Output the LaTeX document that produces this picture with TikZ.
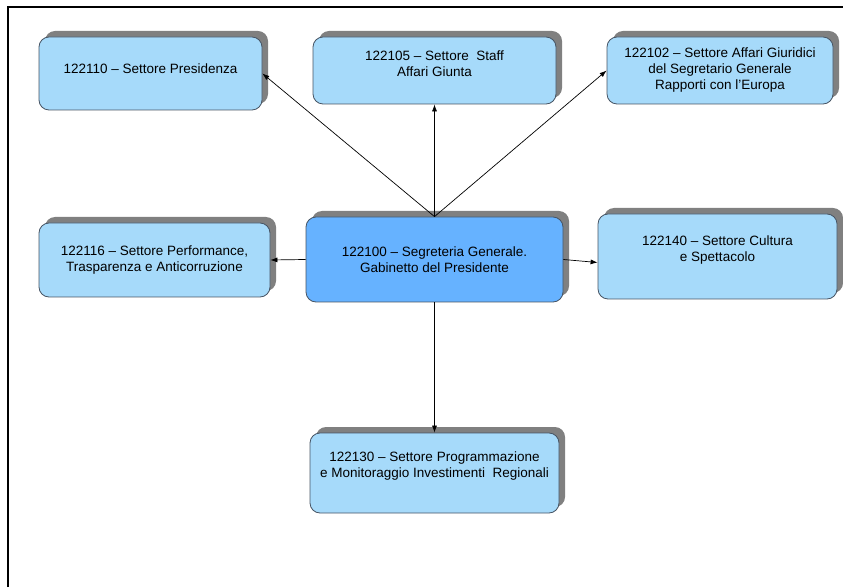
\documentclass[tikz,border=0pt]{standalone}
\usepackage{fontspec}
\setmainfont{Liberation Sans}
\usetikzlibrary{shadows,arrows.meta}
\definecolor{cellblue}{RGB}{166,218,250}
\definecolor{headblue}{RGB}{102,178,255}
\definecolor{cellline}{RGB}{70,84,100}
\definecolor{cellshadow}{RGB}{128,128,128}
\tikzset{
  cell/.style={draw=cellline,line width=.8pt,fill=cellblue,rounded corners=10pt,inner sep=0pt,
    drop shadow={shadow xshift=6pt,shadow yshift=6pt,fill=cellshadow,opacity=1}},
  head/.style={cell,fill=headblue},
  celltext/.style={align=center,font=\fontsize{13.5}{16}\selectfont,inner sep=0pt},
  link/.style={-{Latex[length=7pt,width=5pt]},line width=.7pt}
}
\begin{document}
\begin{tikzpicture}[x=1pt,y=1pt]
\useasboundingbox (0,0) rectangle (843,587);
\draw[line width=2.5pt,line join=miter] (8,0) -- (8,580) -- (843,580);

\node[cell,minimum width=223pt,minimum height=73pt] (pres) at (150.5,513.5) {};
\node[cell,minimum width=243pt,minimum height=67pt] (staff) at (434.5,516.5) {};
\node[cell,minimum width=226pt,minimum height=67pt] (giur) at (720,516.5) {};
\node[head,minimum width=257pt,minimum height=85pt] (seg) at (434.5,327.5) {};
\node[cell,minimum width=231pt,minimum height=74pt] (perf) at (154.5,327) {};
\node[cell,minimum width=239pt,minimum height=85pt] (cult) at (717.5,330.5) {};
\node[cell,minimum width=249pt,minimum height=80pt] (prog) at (434.5,114) {};

\node[celltext] (presT) at ([yshift=4.5pt]pres) {122110 – Settore Presidenza};
\node[celltext] (staffT) at ([yshift=6.5pt]staff) {122105 – Settore\ \ Staff\\Affari Giunta};
\node[celltext] (giurT) at (giur) {122102 – Settore Affari Giuridici\\del Segretario Generale\\Rapporti con l’Europa};
\node[celltext] (segT) at (seg) {122100 – Segreteria Generale.\\Gabinetto del Presidente};
\node[celltext] (perfT) at (perf) {122116 – Settore Performance,\\Trasparenza e Anticorruzione};
\node[celltext] (cultT) at ([yshift=6.5pt]cult) {122140 – Settore Cultura\\e Spettacolo};
\node[celltext] (progT) at ([yshift=7pt]prog) {122130 – Settore Programmazione\\e Monitoraggio Investimenti\ \ Regionali};

\draw[link] (seg.north) -- (pres.east);
\draw[link] (seg.north) -- (staff.south);
\draw[link] (seg.north) -- (giur.west);
\draw[link] (seg.west) -- (perf.east);
\draw[link] (seg.east) -- ([yshift=-6pt]cult.west);
\draw[link] (seg.south) -- (prog.north);
\end{tikzpicture}
\end{document}
